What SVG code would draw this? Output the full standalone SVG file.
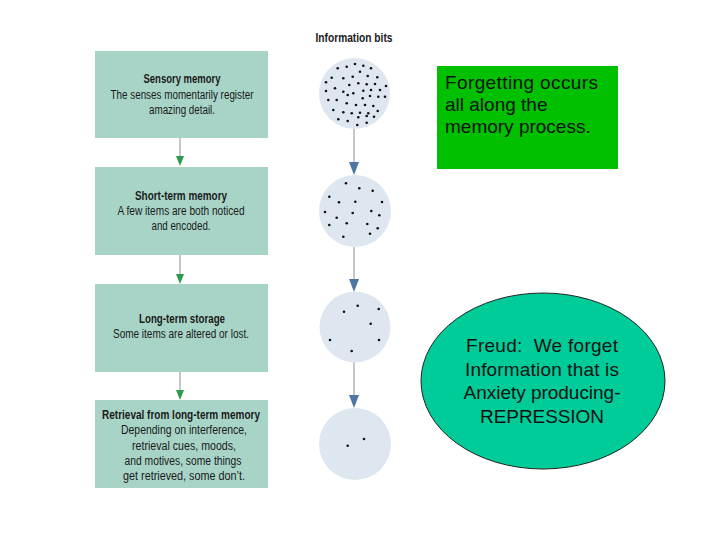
<svg xmlns="http://www.w3.org/2000/svg" width="720" height="540" viewBox="0 0 720 540">
<style>
.box{fill:#a7d4c7}
.bt{font-family:"Liberation Sans",Arial,sans-serif;font-size:12px;fill:#1a1a1a;text-anchor:middle}
.bh{font-weight:bold}
.circ{fill:#dee6f0}
.dot{fill:#111}
.ln{stroke:#8a8f96;stroke-width:1;fill:none}
.gh{fill:#2e9a4c}
.bhd{fill:#4f75a3}
.big{font-family:"Liberation Sans",Arial,sans-serif;font-size:19px;fill:#111}
</style>
<rect width="720" height="540" fill="#fff"/>
<g id="connectors">
<line class="ln" x1="180" y1="138" x2="180" y2="157"/>
<polygon class="gh" points="176,156 184,156 180,166"/>
<line class="ln" x1="180" y1="255" x2="180" y2="275"/>
<polygon class="gh" points="176,274 184,274 180,284"/>
<line class="ln" x1="180" y1="372" x2="180" y2="391"/>
<polygon class="gh" points="176,390 184,390 180,400"/>
<line class="ln" x1="354" y1="129" x2="354" y2="163"/>
<polygon class="bhd" points="349,162 359,162 354,175"/>
<line class="ln" x1="354" y1="247" x2="354" y2="280"/>
<polygon class="bhd" points="349,279 359,279 354,292"/>
<line class="ln" x1="354" y1="362" x2="354" y2="396"/>
<polygon class="bhd" points="349,395 359,395 354,408"/>
</g>
<g id="sensory">
<rect class="box" x="95" y="51" width="173" height="87"/>
<text class="bt bh" x="182" y="83" textLength="77" lengthAdjust="spacingAndGlyphs">Sensory memory</text>
<text class="bt" x="182" y="99" textLength="143" lengthAdjust="spacingAndGlyphs">The senses momentarily register</text>
<text class="bt" x="182" y="114" textLength="66" lengthAdjust="spacingAndGlyphs">amazing detail.</text>
</g>
<g id="shortterm">
<rect class="box" x="95" y="167" width="173" height="88"/>
<text class="bt bh" x="181" y="200" textLength="92" lengthAdjust="spacingAndGlyphs">Short-term memory</text>
<text class="bt" x="181" y="215" textLength="127" lengthAdjust="spacingAndGlyphs">A few items are both noticed</text>
<text class="bt" x="181" y="230" textLength="59" lengthAdjust="spacingAndGlyphs">and encoded.</text>
</g>
<g id="longterm">
<rect class="box" x="95" y="284" width="173" height="88"/>
<text class="bt bh" x="182" y="323" textLength="86" lengthAdjust="spacingAndGlyphs">Long-term storage</text>
<text class="bt" x="181" y="338" textLength="136" lengthAdjust="spacingAndGlyphs">Some items are altered or lost.</text>
</g>
<g id="retrieval">
<rect class="box" x="95" y="400" width="173" height="88"/>
<text class="bt bh" x="181" y="419" textLength="158" lengthAdjust="spacingAndGlyphs">Retrieval from long-term memory</text>
<text class="bt" x="184" y="434" textLength="126" lengthAdjust="spacingAndGlyphs">Depending on interference,</text>
<text class="bt" x="184" y="450" textLength="104" lengthAdjust="spacingAndGlyphs">retrieval cues, moods,</text>
<text class="bt" x="183" y="465" textLength="117" lengthAdjust="spacingAndGlyphs">and motives, some things</text>
<text class="bt" x="184" y="480" textLength="122" lengthAdjust="spacingAndGlyphs">get retrieved, some don’t.</text>
</g>
<g id="infotitle">
<text class="bt bh" x="354" y="42" textLength="77" lengthAdjust="spacingAndGlyphs">Information bits</text>
</g>
<g id="circle1">
<circle class="circ" cx="354.5" cy="93.5" r="35.5"/>
<g class="dot">
<circle cx="337.7" cy="68.3" r="1.3"/><circle cx="346.7" cy="66.7" r="1.3"/><circle cx="355" cy="64" r="1.3"/><circle cx="363.3" cy="65.7" r="1.3"/><circle cx="371" cy="68.3" r="1.3"/>
<circle cx="331.7" cy="77.7" r="1.3"/><circle cx="343.3" cy="78.3" r="1.3"/><circle cx="352.7" cy="76.7" r="1.3"/><circle cx="360" cy="71.7" r="1.3"/><circle cx="367.7" cy="76" r="1.3"/><circle cx="377.3" cy="77.3" r="1.3"/>
<circle cx="326" cy="82.3" r="1.3"/><circle cx="335" cy="88.3" r="1.3"/><circle cx="349.3" cy="85" r="1.3"/><circle cx="358.3" cy="83.3" r="1.3"/><circle cx="366.7" cy="84.3" r="1.3"/><circle cx="375" cy="84" r="1.3"/><circle cx="386" cy="86" r="1.3"/>
<circle cx="326" cy="91" r="1.3"/><circle cx="343.3" cy="91.7" r="1.3"/><circle cx="353.3" cy="93.3" r="1.3"/><circle cx="363.3" cy="90.7" r="1.3"/><circle cx="371" cy="90" r="1.3"/><circle cx="380" cy="90" r="1.3"/>
<circle cx="328.3" cy="100" r="1.3"/><circle cx="336.7" cy="100" r="1.3"/><circle cx="347.7" cy="95" r="1.3"/><circle cx="362.7" cy="98.3" r="1.3"/><circle cx="370" cy="96" r="1.3"/><circle cx="378.3" cy="96.7" r="1.3"/><circle cx="385" cy="96.7" r="1.3"/>
<circle cx="346.7" cy="103.3" r="1.3"/><circle cx="356" cy="105" r="1.3"/><circle cx="365" cy="105" r="1.3"/><circle cx="373.3" cy="106" r="1.3"/>
<circle cx="333.3" cy="110" r="1.3"/><circle cx="343.3" cy="112.3" r="1.3"/><circle cx="351.7" cy="113.3" r="1.3"/><circle cx="360" cy="112.7" r="1.3"/><circle cx="368.3" cy="113.3" r="1.3"/><circle cx="377.7" cy="111" r="1.3"/>
<circle cx="338.3" cy="119.3" r="1.3"/><circle cx="347.7" cy="121" r="1.3"/><circle cx="358.3" cy="117.3" r="1.3"/><circle cx="366.7" cy="116" r="1.3"/><circle cx="374" cy="116.7" r="1.3"/>
<circle cx="357.3" cy="125" r="1.3"/><circle cx="366.7" cy="122.7" r="1.3"/>
</g>
</g>
<g id="circle2">
<circle class="circ" cx="355" cy="211" r="36"/>
<g class="dot">
<circle cx="346" cy="183.3" r="1.3"/><circle cx="359.3" cy="188.3" r="1.3"/><circle cx="372.7" cy="190.7" r="1.3"/><circle cx="329.3" cy="196.7" r="1.3"/><circle cx="339" cy="202.3" r="1.3"/><circle cx="355.3" cy="201.7" r="1.3"/><circle cx="382" cy="202" r="1.3"/><circle cx="325" cy="212" r="1.3"/><circle cx="352.7" cy="213" r="1.3"/><circle cx="371.3" cy="211" r="1.3"/><circle cx="379.3" cy="215.3" r="1.3"/><circle cx="336.7" cy="217.7" r="1.3"/><circle cx="346.7" cy="223.3" r="1.3"/><circle cx="329.3" cy="225" r="1.3"/><circle cx="367.3" cy="224" r="1.3"/><circle cx="377.7" cy="228.3" r="1.3"/><circle cx="370" cy="233.7" r="1.3"/><circle cx="343.3" cy="236.7" r="1.3"/>
</g>
</g>
<g id="circle3">
<circle class="circ" cx="355" cy="327" r="35.5"/>
<g class="dot">
<circle cx="357.7" cy="305.7" r="1.3"/><circle cx="344" cy="311.7" r="1.3"/><circle cx="378.7" cy="309" r="1.3"/><circle cx="370.7" cy="323.7" r="1.3"/><circle cx="330" cy="340" r="1.3"/><circle cx="379" cy="340" r="1.3"/><circle cx="351.7" cy="351" r="1.3"/>
</g>
</g>
<g id="circle4">
<circle class="circ" cx="355" cy="444" r="36"/>
<g class="dot">
<circle cx="347.7" cy="445.7" r="1.3"/><circle cx="364" cy="439" r="1.3"/>
</g>
</g>
<g id="forgetting">
<rect x="437" y="66" width="181" height="103" fill="#00c000"/>
<text class="big" x="445" y="89" textLength="153" lengthAdjust="spacing">Forgetting occurs</text>
<text class="big" x="445" y="111">all along the</text>
<text class="big" x="445" y="133">memory process.</text>
</g>
<g id="freud">
<ellipse cx="543" cy="381" rx="122" ry="88" fill="#00cc99" stroke="#222" stroke-width="1"/>
<text class="big" x="542" y="352" text-anchor="middle" xml:space="preserve" textLength="152" lengthAdjust="spacing">Freud:  We forget</text>
<text class="big" x="542" y="376" text-anchor="middle" textLength="154" lengthAdjust="spacing">Information that is</text>
<text class="big" x="542" y="399" text-anchor="middle" textLength="157" lengthAdjust="spacing">Anxiety producing-</text>
<text class="big" x="542" y="423" text-anchor="middle" textLength="124" lengthAdjust="spacing">REPRESSION</text>
</g>
</svg>
